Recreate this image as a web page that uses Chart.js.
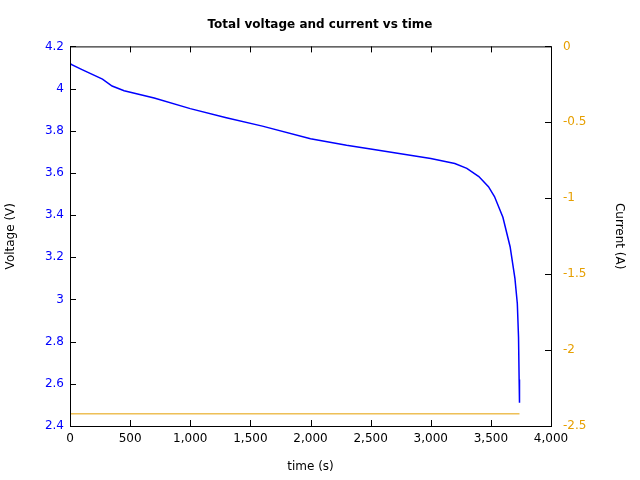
<!DOCTYPE html>
<html>
<head>
<script src="https://cdn.jsdelivr.net/npm/chart.js@4/dist/chart.umd.min.js"></script>
<style>body{margin:0;background:#fff}#wrap{width:640px;height:480px}</style>
</head>
<body>
<div id="wrap"><canvas id="c" width="640" height="480"></canvas></div>
<script>
const timeV = [0, 2, 10, 100, 270, 350, 450, 700, 1000, 1300, 1600, 2000, 2300, 2500, 3000, 3200, 3300, 3400, 3480, 3530, 3600, 3660, 3700, 3720, 3730, 3735, 3738];
const voltage = [4.14, 4.12, 4.115, 4.09, 4.045, 4.012, 3.99, 3.955, 3.905, 3.862, 3.822, 3.762, 3.731, 3.713, 3.668, 3.645, 3.622, 3.583, 3.535, 3.488, 3.39, 3.25, 3.1, 2.98, 2.82, 2.62, 2.51];
const timeI = [0, 3738];
const current = [-2.42, -2.42];
const xTicks = [0, 500, 1000, 1500, 2000, 2500, 3000, 3500, 4000];

const font = { family: 'DejaVu Sans', size: 12 };

const inwardTicks = {
  id: 'inwardTicks',
  afterDraw(chart) {
    const { ctx, chartArea: a, scales } = chart;
    ctx.save();
    ctx.lineWidth = 1;
    ctx.strokeStyle = '#000';
    scales.x.ticks.forEach(t => {
      const px = Math.round(scales.x.getPixelForValue(t.value)) + 0.5;
      ctx.beginPath();
      ctx.moveTo(px, a.bottom); ctx.lineTo(px, a.bottom - 6);
      ctx.moveTo(px, a.top); ctx.lineTo(px, a.top + 6);
      ctx.stroke();
    });
    scales.y.ticks.forEach(t => {
      const py = Math.round(scales.y.getPixelForValue(t.value)) + 0.5;
      ctx.beginPath(); ctx.moveTo(a.left, py); ctx.lineTo(a.left + 6, py); ctx.stroke();
    });
    scales.y2.ticks.forEach(t => {
      const py = Math.round(scales.y2.getPixelForValue(t.value)) + 0.5;
      ctx.beginPath(); ctx.moveTo(a.right, py); ctx.lineTo(a.right - 6, py); ctx.stroke();
    });
    ctx.strokeRect(a.left + 0.5, a.top + 0.5, a.right - a.left, a.bottom - a.top);
    ctx.restore();
  }
};

new Chart(document.getElementById('c'), {
  type: 'line',
  data: {
    datasets: [
      { label: 'Voltage', data: timeV.map((t, i) => ({ x: t, y: voltage[i] })), borderColor: '#0000ff', borderWidth: 1.5, pointRadius: 0, yAxisID: 'y', tension: 0 },
      { label: 'Current', data: timeI.map((t, i) => ({ x: t, y: current[i] })), borderColor: '#e69f00', borderWidth: 1, pointRadius: 0, yAxisID: 'y2' }
    ]
  },
  plugins: [inwardTicks],
  options: {
    responsive: false,
    animation: false,
    layout: { padding: { top: 0, right: 0, left: 0, bottom: 0 } },
    plugins: {
      legend: { display: false },
      tooltip: { enabled: false },
      title: { display: true, text: 'Total voltage and current vs time', color: '#000', font: { family: 'DejaVu Sans', size: 12, weight: 'bold' }, padding: { top: 18, bottom: 14 } }
    },
    scales: {
      x: {
        type: 'linear', min: 0, max: 4000,
        afterBuildTicks: s => { s.ticks = xTicks.map(v => ({ value: v })); },
        grid: { display: false, drawTicks: false }, border: { display: false },
        ticks: { color: '#000', font, padding: 6, maxRotation: 0 },
        title: { display: true, text: 'time (s)', color: '#000', font, padding: { top: 10, bottom: 6 } },
        afterFit: s => { s.height = 54; }
      },
      y: {
        position: 'left', min: 2.4, max: 4.2,
        grid: { display: false, drawTicks: false }, border: { display: false },
        ticks: { stepSize: 0.2, color: '#0000ff', font, padding: 6, callback: v => +v.toFixed(1) },
        title: { display: true, text: 'Voltage (V)', color: '#000', font },
        afterFit: s => { s.width = 70; }
      },
      y2: {
        position: 'right', min: -2.5, max: 0,
        grid: { display: false, drawTicks: false }, border: { display: false },
        ticks: { stepSize: 0.5, color: '#e69f00', font, padding: 12, callback: v => +v.toFixed(1) },
        title: { display: true, text: 'Current (A)', color: '#000', font, padding: { top: 14 } },
        afterFit: s => { s.width = 89; }
      }
    }
  }
});
</script>
</body>
</html>
